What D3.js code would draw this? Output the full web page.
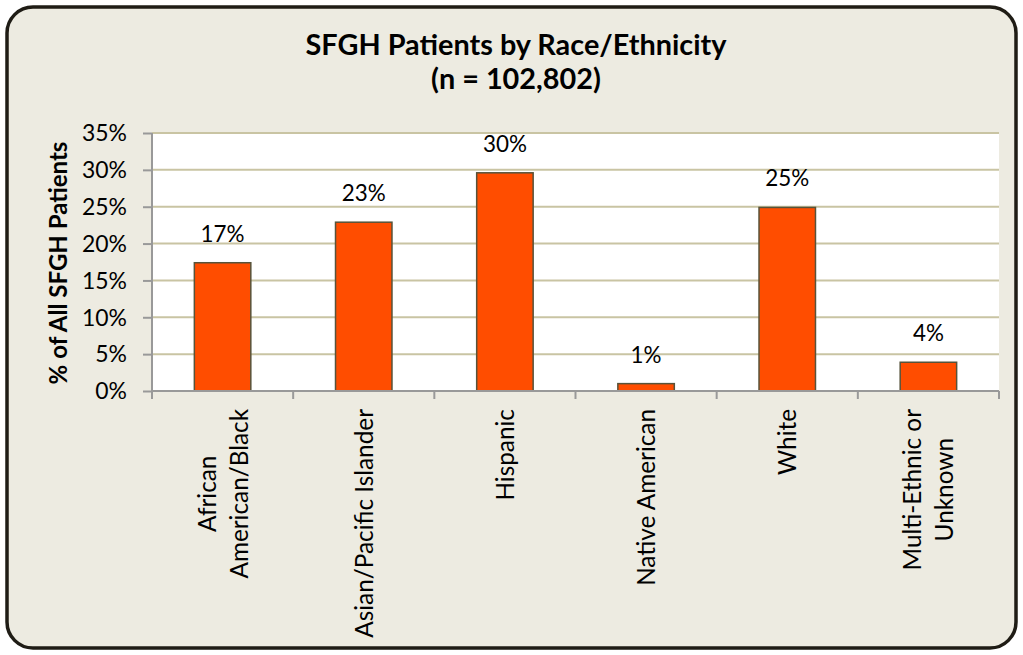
<!DOCTYPE html>
<html>
<head>
<meta charset="utf-8">
<script src="https://cdn.jsdelivr.net/npm/d3@7"></script>
<style>
  html, body { margin: 0; padding: 0; background: #ffffff; }
  svg { display: block; }
  text { font-family: Lato, "Open Sans", sans-serif; fill: #000; }
</style>
</head>
<body>
<svg id="chart" width="1023" height="655"></svg>
<script>
const categories = [
  ["African", "American/Black"],
  ["Asian/Pacific Islander"],
  ["Hispanic"],
  ["Native American"],
  ["White"],
  ["Multi-Ethnic or", "Unknown"]
];
const values = [17.4, 22.9, 29.6, 1.0, 24.9, 3.9];
const valueLabels = ["17%", "23%", "30%", "1%", "25%", "4%"];
const yTicks = [0, 5, 10, 15, 20, 25, 30, 35];
const titleLines = ["SFGH Patients by Race/Ethnicity", "(n = 102,802)"];
const yTitle = "% of All SFGH Patients";

const svg = d3.select("#chart");
const W = 1023, H = 655;
const FONT = "Lato, 'Open Sans', sans-serif";

// font size that gives a sample string a target width
function fitSize(sample, width, weight) {
  const t = svg.append("text").attr("font-size", 100).attr("font-weight", weight || "normal").text(sample);
  const w = t.node().getComputedTextLength();
  t.remove();
  return 100 * width / w;
}
const fsTick = fitSize("35%", 45);
const fsVal = fitSize("17%", 44);
const fsCat = fitSize("Native American", 177);
const fsTitle = fitSize(titleLines[0], 421, "bold");
const fsYTitle = fitSize(yTitle, 243, "bold");

svg.append("rect")
  .attr("x", 7).attr("y", 7).attr("width", W - 14).attr("height", H - 14)
  .attr("rx", 26).attr("ry", 26)
  .attr("fill", "#EDEBE1").attr("stroke", "#1f1c15").attr("stroke-width", 3.5);

const plot = { left: 152, right: 999, top: 133, bottom: 391 };

const x = d3.scaleBand().domain(d3.range(categories.length))
  .range([plot.left, plot.right]).paddingInner(0.6).paddingOuter(0.3);
const xb = d3.scaleBand().domain(d3.range(categories.length))
  .range([plot.left, plot.right]);
const y = d3.scaleLinear().domain([0, 35]).range([plot.bottom, plot.top]);

svg.append("rect")
  .attr("x", plot.left).attr("y", plot.top)
  .attr("width", plot.right - plot.left).attr("height", plot.bottom - plot.top)
  .attr("fill", "#ffffff");

// gridlines
svg.append("g").selectAll("line").data(yTicks.filter(d => d > 0)).join("line")
  .attr("x1", plot.left).attr("x2", plot.right)
  .attr("y1", d => y(d)).attr("y2", d => y(d))
  .attr("stroke", "#C9C4A3").attr("stroke-width", 2);

// bars
svg.append("g").selectAll("rect").data(values).join("rect")
  .attr("x", (d, i) => x(i)).attr("width", x.bandwidth())
  .attr("y", d => y(d)).attr("height", d => y(0) - y(d))
  .attr("fill", "#FF4D00").attr("stroke", "#57533a").attr("stroke-width", 1.5);

// value labels
svg.append("g").selectAll("text").data(values).join("text")
  .attr("x", (d, i) => x(i) + x.bandwidth() / 2)
  .attr("y", d => y(d) - 21)
  .attr("text-anchor", "middle")
  .attr("font-size", fsVal)
  .text((d, i) => valueLabels[i]);

// y axis
const yAxis = d3.axisLeft(y).tickValues(yTicks).tickFormat(d => d + "%")
  .tickSize(9).tickPadding(16);
const gy = svg.append("g").attr("transform", `translate(${plot.left},0)`).call(yAxis);
gy.select(".domain").attr("stroke", "#999").attr("stroke-width", 2).attr("d", `M-0,${plot.top}V${plot.bottom}`);
gy.selectAll(".tick line").attr("stroke", "#999").attr("stroke-width", 2);
gy.selectAll(".tick text").attr("font-size", fsTick).attr("font-family", FONT).attr("fill", "#000").attr("dy", "0.34em");

// x axis line and ticks at band boundaries
const gx = svg.append("g");
gx.append("line").attr("x1", plot.left).attr("x2", plot.right)
  .attr("y1", plot.bottom).attr("y2", plot.bottom)
  .attr("stroke", "#999").attr("stroke-width", 2);
const bounds = d3.range(categories.length).map(i => xb(i)).concat([plot.right]);
gx.selectAll("line.tk").data(bounds).join("line").attr("class", "tk")
  .attr("x1", d => d).attr("x2", d => d)
  .attr("y1", plot.bottom).attr("y2", plot.bottom + 8)
  .attr("stroke", "#999").attr("stroke-width", 2);

// x labels (rotated)
const lineH = 32;
categories.forEach((lines, i) => {
  const cx = xb(i) + xb.bandwidth() / 2;
  const g = svg.append("g");
  const texts = lines.map((l, j) => g.append("text").attr("font-size", fsCat).attr("text-anchor", "middle").text(l));
  const maxLen = d3.max(texts, t => t.node().getComputedTextLength());
  const n = lines.length;
  texts.forEach((t, j) => {
    const off = (j - (n - 1) / 2) * lineH;
    const px = cx + off + 9;
    const py = 409 + maxLen / 2;
    t.attr("transform", `translate(${px},${py}) rotate(-90)`);
  });
});

// title
svg.append("text").attr("x", 516).attr("y", 55).attr("text-anchor", "middle")
  .attr("font-size", fsTitle).attr("font-weight", "bold").text(titleLines[0]);
svg.append("text").attr("x", 516).attr("y", 89).attr("text-anchor", "middle")
  .attr("font-size", fsTitle).attr("font-weight", "bold").text(titleLines[1]);

// y title
svg.append("text").attr("transform", `translate(67,263) rotate(-90)`)
  .attr("text-anchor", "middle").attr("font-size", fsYTitle).attr("font-weight", "bold")
  .text(yTitle);
</script>
</body>
</html>
